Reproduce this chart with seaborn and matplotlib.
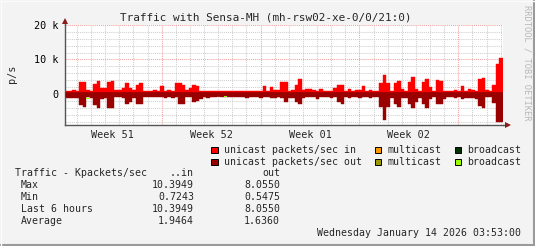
import matplotlib
matplotlib.use("Agg")
import matplotlib.pyplot as plt
import matplotlib.transforms as mtransforms
from matplotlib.patches import Rectangle
from matplotlib.lines import Line2D
import numpy as np
import pandas as pd
import seaborn as sns

# ---------------- data (kpackets/sec, 6-hour slots) ----------------
unicast_in_k = [
    1.0, 1.0, 1.25, 0.72, 3.6, 3.6, 1.25, 0.72, 2.9, 3.8,
    1.7, 1.7, 3.6, 3.8, 1.25, 1.25, 1.7, 3.2, 1.6, 1.2,
    2.7, 3.3, 1.0, 1.0, 1.0, 1.2, 0.9, 2.3, 0.9, 1.2,
    0.9, 3.2, 3.2, 2.6, 1.2, 1.7, 2.5, 2.2, 1.0, 0.9,
    0.9, 0.9, 0.75, 0.75, 0.72, 0.9, 0.9, 0.75, 0.9, 0.75,
    0.9, 0.9, 0.75, 0.9, 0.9, 0.9, 2.2, 0.9, 2.0, 1.2,
    1.2, 3.4, 3.6, 0.9, 1.25, 2.6, 4.2, 1.25, 1.5, 1.4,
    1.15, 0.9, 1.5, 0.9, 0.9, 0.9, 1.6, 2.7, 2.7, 0.9,
    1.5, 1.0, 1.25, 1.25, 2.3, 0.9, 1.25, 1.0, 1.0, 3.3,
    5.5, 3.1, 0.9, 3.3, 3.9, 1.35, 0.9, 3.6, 5.0, 1.45,
    0.9, 3.6, 4.4, 1.9, 1.0, 4.0, 3.8, 0.9, 0.9, 0.9,
    1.25, 0.9, 2.3, 0.9, 1.5, 1.25, 0.9, 4.35, 4.6, 1.25,
    0.9, 2.6, 8.8, 10.3949,
]
unicast_out_k = [
    1.1, 1.1, 1.1, 1.1, 3.2, 3.8, 1.0, 1.2, 3.2, 4.2,
    1.4, 1.2, 4.0, 4.0, 1.0, 1.0, 1.2, 3.0, 2.2, 1.2,
    2.8, 2.8, 1.0, 1.0, 1.0, 1.0, 1.0, 1.0, 1.2, 1.0,
    1.2, 1.0, 2.8, 2.8, 1.0, 1.0, 2.4, 1.9, 1.4, 1.0,
    1.2, 1.0, 1.0, 0.5475, 1.0, 1.0, 1.0, 1.0, 1.0, 1.0,
    1.0, 1.2, 1.0, 1.0, 1.0, 1.2, 1.0, 1.0, 1.2, 1.2,
    1.0, 1.2, 2.4, 1.2, 1.2, 2.2, 2.8, 1.2, 1.0, 1.0,
    1.0, 1.4, 1.0, 1.0, 1.0, 1.2, 1.0, 2.2, 2.8, 1.0,
    1.2, 1.0, 1.0, 1.2, 1.0, 1.0, 1.2, 1.0, 1.0, 3.7,
    7.5, 3.7, 1.2, 3.0, 3.8, 1.2, 1.2, 3.0, 4.2, 2.2,
    1.2, 3.0, 4.0, 1.4, 1.0, 3.0, 3.0, 1.4, 1.0, 1.0,
    1.2, 1.0, 1.4, 1.2, 1.2, 1.2, 1.4, 3.6, 4.0, 1.0,
    1.0, 2.7, 8.0, 8.055,
]
# small broadcast-out blips (slot index -> (top, bottom) in kpps, negative side)
broadcast_out_slots = [6, 45]
broadcast_out_top_k = [1.1, 0.55]
broadcast_out_bot_k = [1.4, 0.9]

week_labels = ["Week 51", "Week 52", "Week 01", "Week 02"]
ytick_vals = [0, 10000, 20000]
ytick_labels = ["0", "10 k", "20 k"]

stat_rows = ["Max", "Min", "Last 6 hours", "Average"]
stat_in = ["10.3949", "0.7243", "10.3949", "1.9464"]
stat_out = ["8.0550", "0.5475", "8.0550", "1.6360"]

title = "Traffic with Sensa-MH (mh-rsw02-xe-0/0/21:0)"
timestamp = "Wednesday January 14 2026 03:53:00"

# ---------------- style ----------------
W, H = 535, 246
BG = "#f3f3f3"
RED = "#ff0000"
DARK = "#990000"
ORANGE = "#ff9900"
OLIVE = "#999900"
DGREEN = "#003300"
LIME = "#99ff00"
MINOR = "#cfcfcf"
MAJOR = "#f5a0a0"
AXC = "#555555"
ARROW = "#8b1a1a"

SLOT = 0.25          # days per bar
FIRST_WEEK = 6.84    # day offset of first week boundary
XMAX = 31.0
YMIN, YMAX = -9000, 20000

sns.set_style("white")
plt.rcParams["font.family"] = ["DejaVu Sans Mono"]

fig = plt.figure(figsize=(W / 100, H / 100), dpi=100, facecolor=BG)

def fx(x):
    return x / W

def fy(y):
    return 1 - y / H

L, R, T, B = 65, 503, 25, 125
ax = fig.add_axes([fx(L), fy(B), fx(R) - fx(L), fy(T) - fy(B)])
ax.set_facecolor("white")

n = len(unicast_in_k)
t = [SLOT * (i + 0.5) for i in range(n)]
df = pd.DataFrame({
    "t": t,
    "in": [v * 1000 for v in unicast_in_k],
    "out": [-v * 1000 for v in unicast_out_k],
})

# grid (dotted)
dots = (0, (1, 1))
day_lines = np.arange(FIRST_WEEK - 6, XMAX, 1.0)
for d in day_lines:
    is_major = abs(((d - FIRST_WEEK) / 7) - round((d - FIRST_WEEK) / 7)) < 1e-6
    ax.axvline(d, color=MAJOR if is_major else MINOR, lw=0.75, ls=dots, zorder=0)
for yv in np.arange(-8000, 20001, 2000):
    ax.axhline(yv, color=MAJOR if yv % 10000 == 0 else MINOR, lw=0.75, ls=dots, zorder=0)

sns.barplot(data=df, x="t", y="in", native_scale=True, orient="x", width=1,
            color=RED, saturation=1, errorbar=None, ax=ax,
            edgecolor=RED, linewidth=0.3, zorder=2)
sns.barplot(data=df, x="t", y="out", native_scale=True, orient="x", width=1,
            color=DARK, saturation=1, errorbar=None, ax=ax,
            edgecolor=DARK, linewidth=0.3, zorder=2)
# dark band around zero
ax.hlines(0, 0, n * SLOT, color=DARK, lw=3.4, zorder=3)
# broadcast out blips
for s, tp, bt in zip(broadcast_out_slots, broadcast_out_top_k, broadcast_out_bot_k):
    ax.bar(SLOT * s, -(bt - tp) * 1000, bottom=-tp * 1000, width=SLOT,
           align="edge", color=LIME, linewidth=0, zorder=4)

ax.set_xlim(0, XMAX)
ax.set_ylim(YMIN, YMAX)
ax.set_xlabel("")
ax.set_ylabel("")

for sp in ["top", "right"]:
    ax.spines[sp].set_visible(False)
for sp in ["left", "bottom"]:
    ax.spines[sp].set_color(AXC)
    ax.spines[sp].set_linewidth(1.0)

ax.set_yticks(ytick_vals)
ax.set_yticklabels(ytick_labels, fontsize=7.3, color="black")
ax.set_yticks(np.arange(-8000, 20001, 2000), minor=True)
ax.set_xticks(day_lines, minor=True)
week_bounds = [FIRST_WEEK + 7 * i for i in range(4)]
ax.set_xticks(week_bounds)
ax.set_xticklabels([""] * len(week_bounds))
ax.tick_params(axis="both", which="both", direction="inout", color=AXC, length=3, width=0.7, pad=3)
ax.tick_params(axis="x", which="major", color="#dd3333")

trans = mtransforms.blended_transform_factory(ax.transData, fig.transFigure)
for i, lab in enumerate(week_labels):
    ax.text(FIRST_WEEK - 3.5 + 7 * i, fy(135), lab, transform=trans,
            ha="center", va="center", fontsize=7.3)

# axis arrows
fig.add_artist(Line2D([fx(R), fx(508)], [fy(B), fy(B)], color=AXC, lw=1.0))
fig.add_artist(Line2D([fx(L), fx(L)], [fy(T), fy(20)], color=AXC, lw=1.0))
fig.add_artist(Line2D([fx(508)], [fy(B)], marker=">", color=ARROW, ms=4, mew=0))
fig.add_artist(Line2D([fx(L)], [fy(21)], marker="^", color=ARROW, ms=4, mew=0))

# texts
fig.text(fx(266), fy(17), title, ha="center", va="center", fontsize=7.9)
fig.text(fx(12.5), fy(74), "p/s", ha="center", va="center", rotation=90, fontsize=7.3)
fig.text(fx(527), fy(5), "RRDTOOL / TOBI OETIKER", ha="center", va="top",
         rotation=270, fontsize=6.3, color="#b8b8b8")

# legend
legend_items = [
    (211, 150, RED, "unicast packets/sec in"),
    (211, 162, DARK, "unicast packets/sec out"),
    (374.5, 150, ORANGE, "multicast"),
    (374.5, 162, OLIVE, "multicast"),
    (454.5, 150, DGREEN, "broadcast"),
    (454.5, 162, LIME, "broadcast"),
]
for x0, yc, col, lab in legend_items:
    fig.add_artist(Rectangle((fx(x0), fy(yc + 3.3)), 6.6 / W, 6.6 / H,
                             facecolor=col, edgecolor="black", lw=0.7,
                             transform=fig.transFigure))
    fig.text(fx(x0 + 12.7), fy(yc), lab, ha="left", va="center", fontsize=7.1)

# stats table
fig.text(fx(15), fy(173.5), "Traffic - Kpackets/sec", ha="left", va="center", fontsize=7.1)
fig.text(fx(194), fy(173.5), "..in", ha="right", va="center", fontsize=7.1)
fig.text(fx(280), fy(173.5), "out", ha="right", va="center", fontsize=7.1)
for i, (lab, vi, vo) in enumerate(zip(stat_rows, stat_in, stat_out)):
    yy = 185.5 + 12 * i
    fig.text(fx(20.7), fy(yy), lab, ha="left", va="center", fontsize=7.1)
    fig.text(fx(194), fy(yy), vi, ha="right", va="center", fontsize=7.1)
    fig.text(fx(280), fy(yy), vo, ha="right", va="center", fontsize=7.1)

fig.text(fx(521), fy(233.5), timestamp, ha="right", va="center", fontsize=7.1)

# 3D-ish frame
fig.add_artist(Line2D([0, 1], [fy(245), fy(245)], color="#9a9a9a", lw=1.5))
fig.add_artist(Line2D([fx(534), fx(534)], [0, 1], color="#9a9a9a", lw=1.5))
fig.add_artist(Line2D([0, 1], [fy(0.5), fy(0.5)], color="#fbfbfb", lw=1))
fig.add_artist(Line2D([fx(0.5), fx(0.5)], [0, 1], color="#fbfbfb", lw=1))

fig.savefig("out.png", dpi=100, facecolor=BG)
